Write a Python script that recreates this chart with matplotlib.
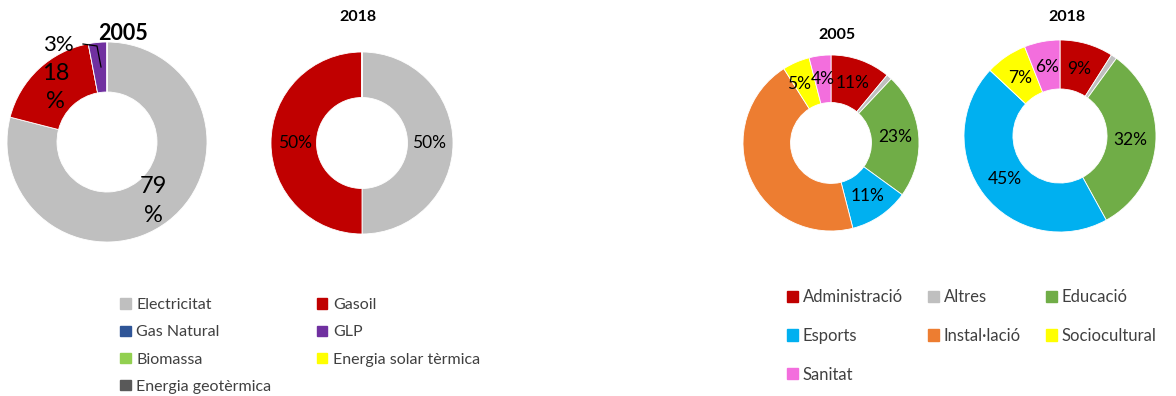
"""Two pairs of donut charts: energy source mix and consumption by use, 2005 vs 2018."""
import matplotlib
matplotlib.use("Agg")
import matplotlib.pyplot as plt  # noqa: E402
from matplotlib.patches import Patch  # noqa: E402
import numpy as np  # noqa: E402

plt.rcParams["font.family"] = ["Lato", "DejaVu Sans"]

W, H = 1176, 396

# --- energy sources (left pair) ---
fuel_names = ["Electricitat", "Gasoil", "Gas Natural", "GLP", "Biomassa",
              "Energia solar tèrmica", "Energia geotèrmica"]
fuel_colors = ["#BFBFBF", "#C00000", "#2F5597", "#7030A0", "#92D050", "#FFFF00", "#595959"]
fuel_2005 = [79, 18, 0, 3, 0, 0, 0]
fuel_2018 = [50, 50, 0, 0, 0, 0, 0]

# --- uses (right pair) ---
use_names = ["Administració", "Altres", "Educació", "Esports", "Instal·lació",
             "Sociocultural", "Sanitat"]
use_colors = ["#C00000", "#BFBFBF", "#70AD47", "#00B0F0", "#ED7D31", "#FFFF00", "#F36EDD"]
use_2005 = [11, 1, 23, 11, 45, 5, 4]
use_2018 = [9, 1, 32, 45, 0, 7, 6]


def donut(fig, cx, cy, r, values, colors, width=0.5):
    ax = fig.add_axes([(cx - r) / W, 1 - (cy + r) / H, 2 * r / W, 2 * r / H])
    wedges, _ = ax.pie(values, colors=colors, startangle=90, counterclock=False,
                       radius=1, wedgeprops=dict(width=width, linewidth=0.6,
                                                 edgecolor="white"))
    ax.set_xlim(-1, 1)
    ax.set_ylim(-1, 1)
    ax.set_aspect("equal")
    ax.axis("off")
    return ax, wedges


def mid_xy(w, dist):
    ang = np.deg2rad((w.theta1 + w.theta2) / 2)
    return dist * np.cos(ang), dist * np.sin(ang)


fig = plt.figure(figsize=(W / 100, H / 100), dpi=100)

# left 2005
ax, wedges = donut(fig, 107, 142, 100, fuel_2005, fuel_colors)
for w, v in zip(wedges, fuel_2005):
    if v == 0:
        continue
    x, y = mid_xy(w, 0.75)
    if v == 3:
        ax.text(-0.49, 0.97, f"{v}%", ha="center", va="center", fontsize=16)
        ax.plot([-0.24, -0.10, -0.06], [0.98, 0.96, 0.75], color="black", lw=0.9)
    else:
        ax.text(x, y, f"{v}\n%", ha="center", va="center", fontsize=17, linespacing=1.45)
fig.text(123 / W, 1 - 33 / H, "2005", ha="center", va="center", fontsize=15.5,
         fontweight="bold")

# left 2018
ax, wedges = donut(fig, 362, 143, 91, fuel_2018, fuel_colors, width=0.5)
for w, v in zip(wedges, fuel_2018):
    if v:
        x, y = mid_xy(w, 0.74)
        ax.text(x, y, f"{v}%", ha="center", va="center", fontsize=12.5)
fig.text(358 / W, 1 - 17 / H, "2018", ha="center", va="center", fontsize=11.5,
         fontweight="bold")

# right 2005
ax, wedges = donut(fig, 831, 143, 88, use_2005, use_colors, width=0.54)
for name, w, v in zip(use_names, wedges, use_2005):
    if v < 3 or name == "Instal·lació":
        continue
    x, y = mid_xy(w, 0.73)
    if name == "Sociocultural":
        x, y = -0.36, 0.67
    ax.text(x, y, f"{v}%", ha="center", va="center", fontsize=12.5)
fig.text(837 / W, 1 - 35 / H, "2005", ha="center", va="center", fontsize=11.5,
         fontweight="bold")

# right 2018
ax, wedges = donut(fig, 1060, 136, 96, use_2018, use_colors, width=0.51)
for w, v in zip(wedges, use_2018):
    if v < 3:
        continue
    x, y = mid_xy(w, 0.73)
    ax.text(x, y, f"{v}%", ha="center", va="center", fontsize=12.5)
fig.text(1067 / W, 1 - 17 / H, "2018", ha="center", va="center", fontsize=11.5,
         fontweight="bold")

# legends (row-major order in the reference, matplotlib fills column-major)
fuel_handles = [Patch(color=c, label=n) for n, c in zip(fuel_names, fuel_colors)]
order = [0, 2, 4, 6, 1, 3, 5]
fig.legend([fuel_handles[i] for i in order], [fuel_names[i] for i in order],
           ncol=2, loc="upper left", bbox_to_anchor=(106 / W, 1 - 284 / H),
           frameon=False, fontsize=11.5, handlelength=0.65, handleheight=0.65,
           handletextpad=0.35, labelspacing=0.82, columnspacing=2.85,
           labelcolor="#404040")

use_handles = [Patch(color=c, label=n) for n, c in zip(use_names, use_colors)]
order = [0, 3, 6, 1, 4, 2, 5]
fig.legend([use_handles[i] for i in order], [use_names[i] for i in order],
           ncol=3, loc="upper left", bbox_to_anchor=(772 / W, 1 - 274 / H),
           frameon=False, fontsize=12, handlelength=0.65, handleheight=0.65,
           handletextpad=0.3, labelspacing=1.37, columnspacing=1.5,
           labelcolor="#404040")

fig.savefig("out.png", dpi=100)
